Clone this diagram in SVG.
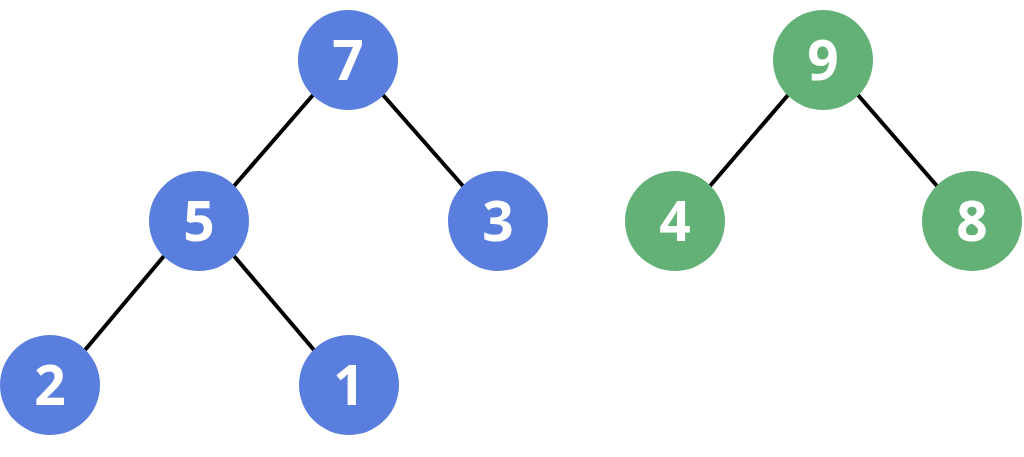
<svg xmlns="http://www.w3.org/2000/svg" width="1024" height="457" viewBox="0 0 1024 457">
<style>
.edge{stroke:#000;stroke-width:4;stroke-linecap:butt}
.b{fill:#5A7EDE}
.g{fill:#63B176}
.t{fill:#fff;font-family:"Open Sans","DejaVu Sans",sans-serif;font-weight:bold;font-size:55px;text-anchor:middle;dominant-baseline:central}
</style>
<rect width="1024" height="457" fill="#fff"/>
<g id="connectors">
<line class="edge" x1="313" y1="95" x2="234" y2="186"/>
<line class="edge" x1="383" y1="95" x2="463" y2="186"/>
<line class="edge" x1="164" y1="256" x2="85" y2="350"/>
<line class="edge" x1="234" y1="256" x2="314" y2="350"/>
<line class="edge" x1="788" y1="95" x2="710" y2="186"/>
<line class="edge" x1="858" y1="95" x2="937" y2="186"/>
</g>
<g id="n7"><circle class="b" cx="348" cy="60" r="50"/><text class="t" x="348" y="58">7</text></g>
<g id="n5"><circle class="b" cx="199" cy="221" r="50"/><text class="t" x="199" y="219">5</text></g>
<g id="n3"><circle class="b" cx="498" cy="221" r="50"/><text class="t" x="498" y="219">3</text></g>
<g id="n2"><circle class="b" cx="50" cy="385" r="50"/><text class="t" x="50" y="383">2</text></g>
<g id="n1"><circle class="b" cx="349" cy="385" r="50"/><text class="t" x="349" y="383">1</text></g>
<g id="n9"><circle class="g" cx="823" cy="60" r="50"/><text class="t" x="823" y="58">9</text></g>
<g id="n4"><circle class="g" cx="675" cy="221" r="50"/><text class="t" x="675" y="219">4</text></g>
<g id="n8"><circle class="g" cx="972" cy="221" r="50"/><text class="t" x="972" y="219">8</text></g>
</svg>
